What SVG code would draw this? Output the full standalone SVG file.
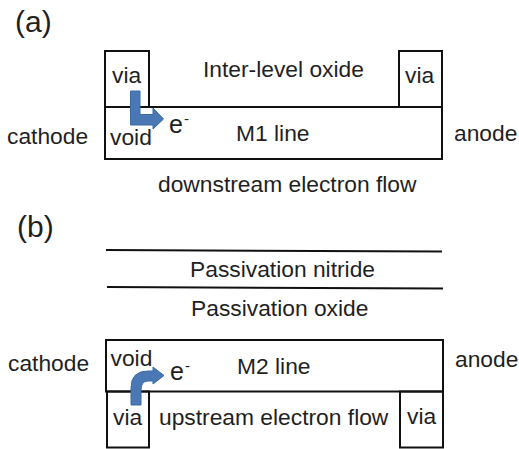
<svg xmlns="http://www.w3.org/2000/svg" width="519" height="449" viewBox="0 0 519 449">
<style>
text{font-family:"Liberation Sans",Arial,sans-serif;font-size:22.8px;fill:#1f1f1f}
.s{fill:none;stroke:#111;stroke-width:2}
.a{fill:#4a78b4;stroke:#3a6aa8;stroke-width:1}
</style>
<rect width="519" height="449" fill="#fff"/>
<text x="15" y="32" style="font-size:30px">(a)</text>
<text x="17" y="237" style="font-size:30px">(b)</text>
<g id="connectors">
<line class="s" x1="106" y1="250" x2="442" y2="251.5"/>
<line class="s" x1="107" y1="287" x2="443" y2="288.5"/>
</g>
<g id="via-a1"><rect class="s" x="105" y="51" width="44" height="56"/><text x="112" y="83">via</text></g>
<g id="via-a2"><rect class="s" x="399" y="51" width="43" height="56"/><text x="405" y="83">via</text></g>
<g id="m1"><rect class="s" x="105" y="107" width="337" height="52"/><text x="236" y="141">M1 line</text><text x="110" y="145">void</text></g>
<g id="arrow-a"><path class="a" d="M130.500 91H140V114.500H153V108L163.500 119L153 129V125H130.500Z"/><text x="169" y="133" style="font-size:25px">e</text><text x="184" y="124" style="font-size:15px">-</text></g>
<g id="oxide-a"><text x="203" y="77">Inter-level oxide</text></g>
<g id="labels-a"><text x="7" y="144">cathode</text><text x="454" y="141">anode</text><text x="158" y="192">downstream electron flow</text></g>
<g id="passivation"><text x="190" y="277">Passivation nitride</text><text x="191" y="316">Passivation oxide</text></g>
<g id="m2"><rect class="s" x="106" y="340" width="337" height="51.500"/><text x="110.500" y="366">void</text><text x="237" y="374">M2 line</text></g>
<g id="via-b1"><rect class="s" x="107" y="391.500" width="42" height="56"/><text x="113" y="425">via</text></g>
<g id="via-b2"><rect class="s" x="400" y="391.500" width="43" height="56"/><text x="407" y="424">via</text></g>
<g id="arrow-b"><path class="a" d="M131 405V388Q131 371 148 371H153V367L164 375.500 153 384V381H148Q141 381 141 390V405Z"/><text x="170" y="380" style="font-size:25px">e</text><text x="185" y="371" style="font-size:15px">-</text></g>
<g id="labels-b"><text x="8" y="371">cathode</text><text x="455" y="367">anode</text><text x="159" y="425">upstream electron flow</text></g>
</svg>
